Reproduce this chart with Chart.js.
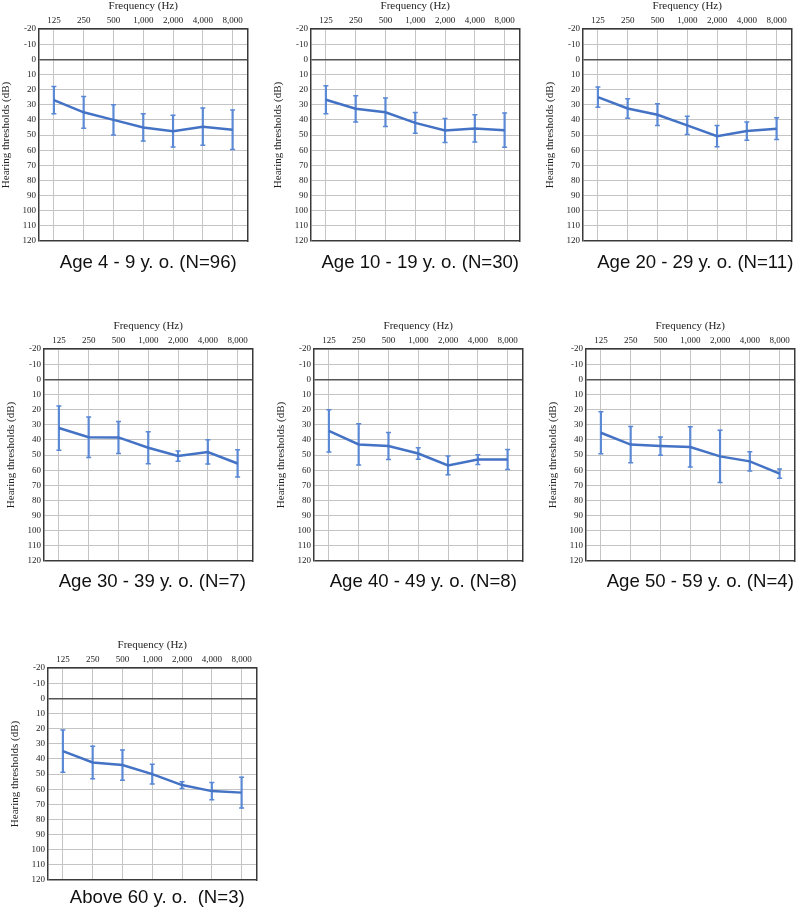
<!DOCTYPE html>
<html>
<head>
<meta charset="utf-8">
<script src="https://cdn.jsdelivr.net/npm/chart.js@4.4.1/dist/chart.umd.min.js"></script>
<style>
body { margin: 0; background: #fff; }
#page { position: relative; width: 799px; height: 913px; overflow: hidden; }
#page canvas { position: absolute; }
</style>
</head>
<body>
<div id="page">
  <canvas id="c1" width="253" height="277" style="left:0px;top:0px"></canvas>
  <canvas id="c2" width="253" height="277" style="left:272px;top:0px"></canvas>
  <canvas id="c3" width="253" height="277" style="left:544px;top:0px"></canvas>
  <canvas id="c4" width="253" height="277" style="left:5px;top:320px"></canvas>
  <canvas id="c5" width="253" height="277" style="left:275px;top:320px"></canvas>
  <canvas id="c6" width="253" height="277" style="left:547px;top:320px"></canvas>
  <canvas id="c7" width="253" height="277" style="left:9px;top:639px"></canvas>
</div>
<script>
// data (mean and SD in dB)
const freqLabels = ["125", "250", "500", "1,000", "2,000", "4,000", "8,000"];
const yMin = -20;
const yMax = 120;
const yStep = 10;

const captions = [
    "Age 4 - 9 y. o. (N=96)",
    "Age 10 - 19 y. o. (N=30)",
    "Age 20 - 29 y. o. (N=11)",
    "Age 30 - 39 y. o. (N=7)",
    "Age 40 - 49 y. o. (N=8)",
    "Age 50 - 59 y. o. (N=4)",
    "Above 60 y. o.  (N=3)"
];

const mean4to9 = [27, 35, 40, 45, 47.5, 44.5, 46.5];
const sd4to9 = [9, 10.5, 10, 9, 10.5, 12.3, 13];

const mean10to19 = [26.7, 32.7, 35, 42, 47, 45.7, 46.8];
const sd10to19 = [9.2, 8.7, 9.4, 6.9, 7.9, 9, 11.3];

const mean20to29 = [25, 32.5, 36.6, 43.6, 50.8, 47.4, 45.8];
const sd20to29 = [6.7, 6.5, 7.2, 6, 7, 6, 7.2];

const mean30to39 = [32.2, 38.3, 38.4, 45.2, 50.7, 48, 55.6];
const sd30to39 = [14.6, 13.4, 10.6, 10.6, 3.4, 8, 9];

const mean40to49 = [34.1, 43, 44.1, 49, 56.9, 53, 53];
const sd40to49 = [14, 13.6, 8.9, 3.8, 6.2, 3.2, 6.6];

const mean50to59 = [35.3, 43.1, 44.1, 44.7, 50.9, 54.2, 62.3];
const sd50to59 = [13.9, 12, 6, 13.3, 17.3, 6.3, 3];

const meanAbove60 = [34.9, 42.4, 44.1, 50.1, 57.3, 61.3, 62.3];
const sdAbove60 = [13.9, 10.8, 10, 6.5, 2.2, 5.7, 10.2];

const means = [mean4to9, mean10to19, mean20to29, mean30to39, mean40to49, mean50to59, meanAbove60];
const sds = [sd4to9, sd10to19, sd20to29, sd30to39, sd40to49, sd50to59, sdAbove60];

// caption shift relative to the plot centre
const captionShift = [
    { dx: 5, dy: 22 }, { dx: 5, dy: 22 }, { dx: 8, dy: 22 },
    { dx: 4, dy: 21 }, { dx: 5, dy: 21 }, { dx: 10, dy: 21 },
    { dx: 5, dy: 18 }
];

const lineBlue = "#4472c4";
const errBlue = "#5a88d4";
const gridGray = "#c4c4c4";
const frameColor = "#3a3a3a";

Chart.defaults.font.family = '"Liberation Serif", "Times New Roman", serif';
Chart.defaults.color = "#222";

const captionPlugin = {
    id: "caption",
    afterDraw(chart, args, opts) {
        const ctx = chart.ctx;
        const area = chart.chartArea;
        ctx.save();
        ctx.font = '18.6px "Liberation Sans", Arial, sans-serif';
        ctx.fillStyle = "#111";
        ctx.textAlign = "center";
        ctx.textBaseline = "middle";
        ctx.fillText(opts.text, (area.left + area.right) / 2 + opts.dx, area.bottom + opts.dy);
        ctx.restore();
    }
};

function drawPanel(id, caption, mean, sd, shift) {
    const low = mean.map((m, i) => m - sd[i]);
    const high = mean.map((m, i) => m + sd[i]);
    const ctx = document.getElementById(id).getContext("2d");

    new Chart(ctx, {
        type: "bar",
        data: {
            labels: freqLabels,
            datasets: [
                {
                    type: "line",
                    data: mean,
                    borderColor: lineBlue,
                    borderWidth: 2.5,
                    pointRadius: 0,
                    tension: 0,
                    yAxisID: "y",
                    order: 0
                },
                {
                    type: "bar",
                    data: low.map((v, i) => [v, high[i]]),
                    backgroundColor: errBlue,
                    barThickness: 1.5,
                    yAxisID: "y",
                    order: 2
                },
                {
                    type: "line",
                    data: low,
                    showLine: false,
                    pointStyle: "line",
                    pointRadius: 2.5,
                    pointBorderWidth: 1.5,
                    pointBorderColor: errBlue,
                    yAxisID: "y",
                    order: 1
                },
                {
                    type: "line",
                    data: high,
                    showLine: false,
                    pointStyle: "line",
                    pointRadius: 2.5,
                    pointBorderWidth: 1.5,
                    pointBorderColor: errBlue,
                    yAxisID: "y",
                    order: 1
                }
            ]
        },
        options: {
            responsive: false,
            animation: false,
            events: [],
            layout: { padding: { top: 0, left: 0, right: 2, bottom: 36 } },
            plugins: {
                legend: { display: false },
                tooltip: { enabled: false },
                caption: { text: caption, dx: shift.dx, dy: shift.dy }
            },
            scales: {
                x: {
                    position: "top",
                    offset: true,
                    grid: { offset: false, color: gridGray, drawTicks: false },
                    border: { color: frameColor, width: 1.5 },
                    ticks: { padding: 3, maxRotation: 0, autoSkip: false, font: { size: 9 } },
                    title: { display: true, text: "Frequency (Hz)", font: { size: 11 }, padding: 0 },
                    afterFit: s => { s.height = 29; }
                },
                y: {
                    position: "left",
                    reverse: true,
                    min: yMin,
                    max: yMax,
                    ticks: { stepSize: yStep, padding: 3, autoSkip: false, font: { size: 9 } },
                    grid: {
                        drawTicks: false,
                        color: c => c.tick.value === 0 ? "#555" : (c.tick.value === yMax ? frameColor : gridGray),
                        lineWidth: c => (c.tick.value === 0 || c.tick.value === yMax) ? 1.5 : 1
                    },
                    border: { color: frameColor, width: 1.5 },
                    title: { display: true, text: "Hearing thresholds (dB)", font: { size: 11 }, padding: 0 },
                    afterFit: s => { s.width = 39; }
                },
                yR: {
                    position: "right",
                    reverse: true,
                    min: yMin,
                    max: yMax,
                    ticks: { display: false },
                    grid: { display: false, drawTicks: false },
                    border: { display: true, color: frameColor, width: 1.5 },
                    afterFit: s => { s.width = 0; }
                }
            }
        },
        plugins: [captionPlugin]
    });
}

for (let i = 0; i < captions.length; i++) {
    drawPanel("c" + (i + 1), captions[i], means[i], sds[i], captionShift[i]);
}
</script>
</body>
</html>
